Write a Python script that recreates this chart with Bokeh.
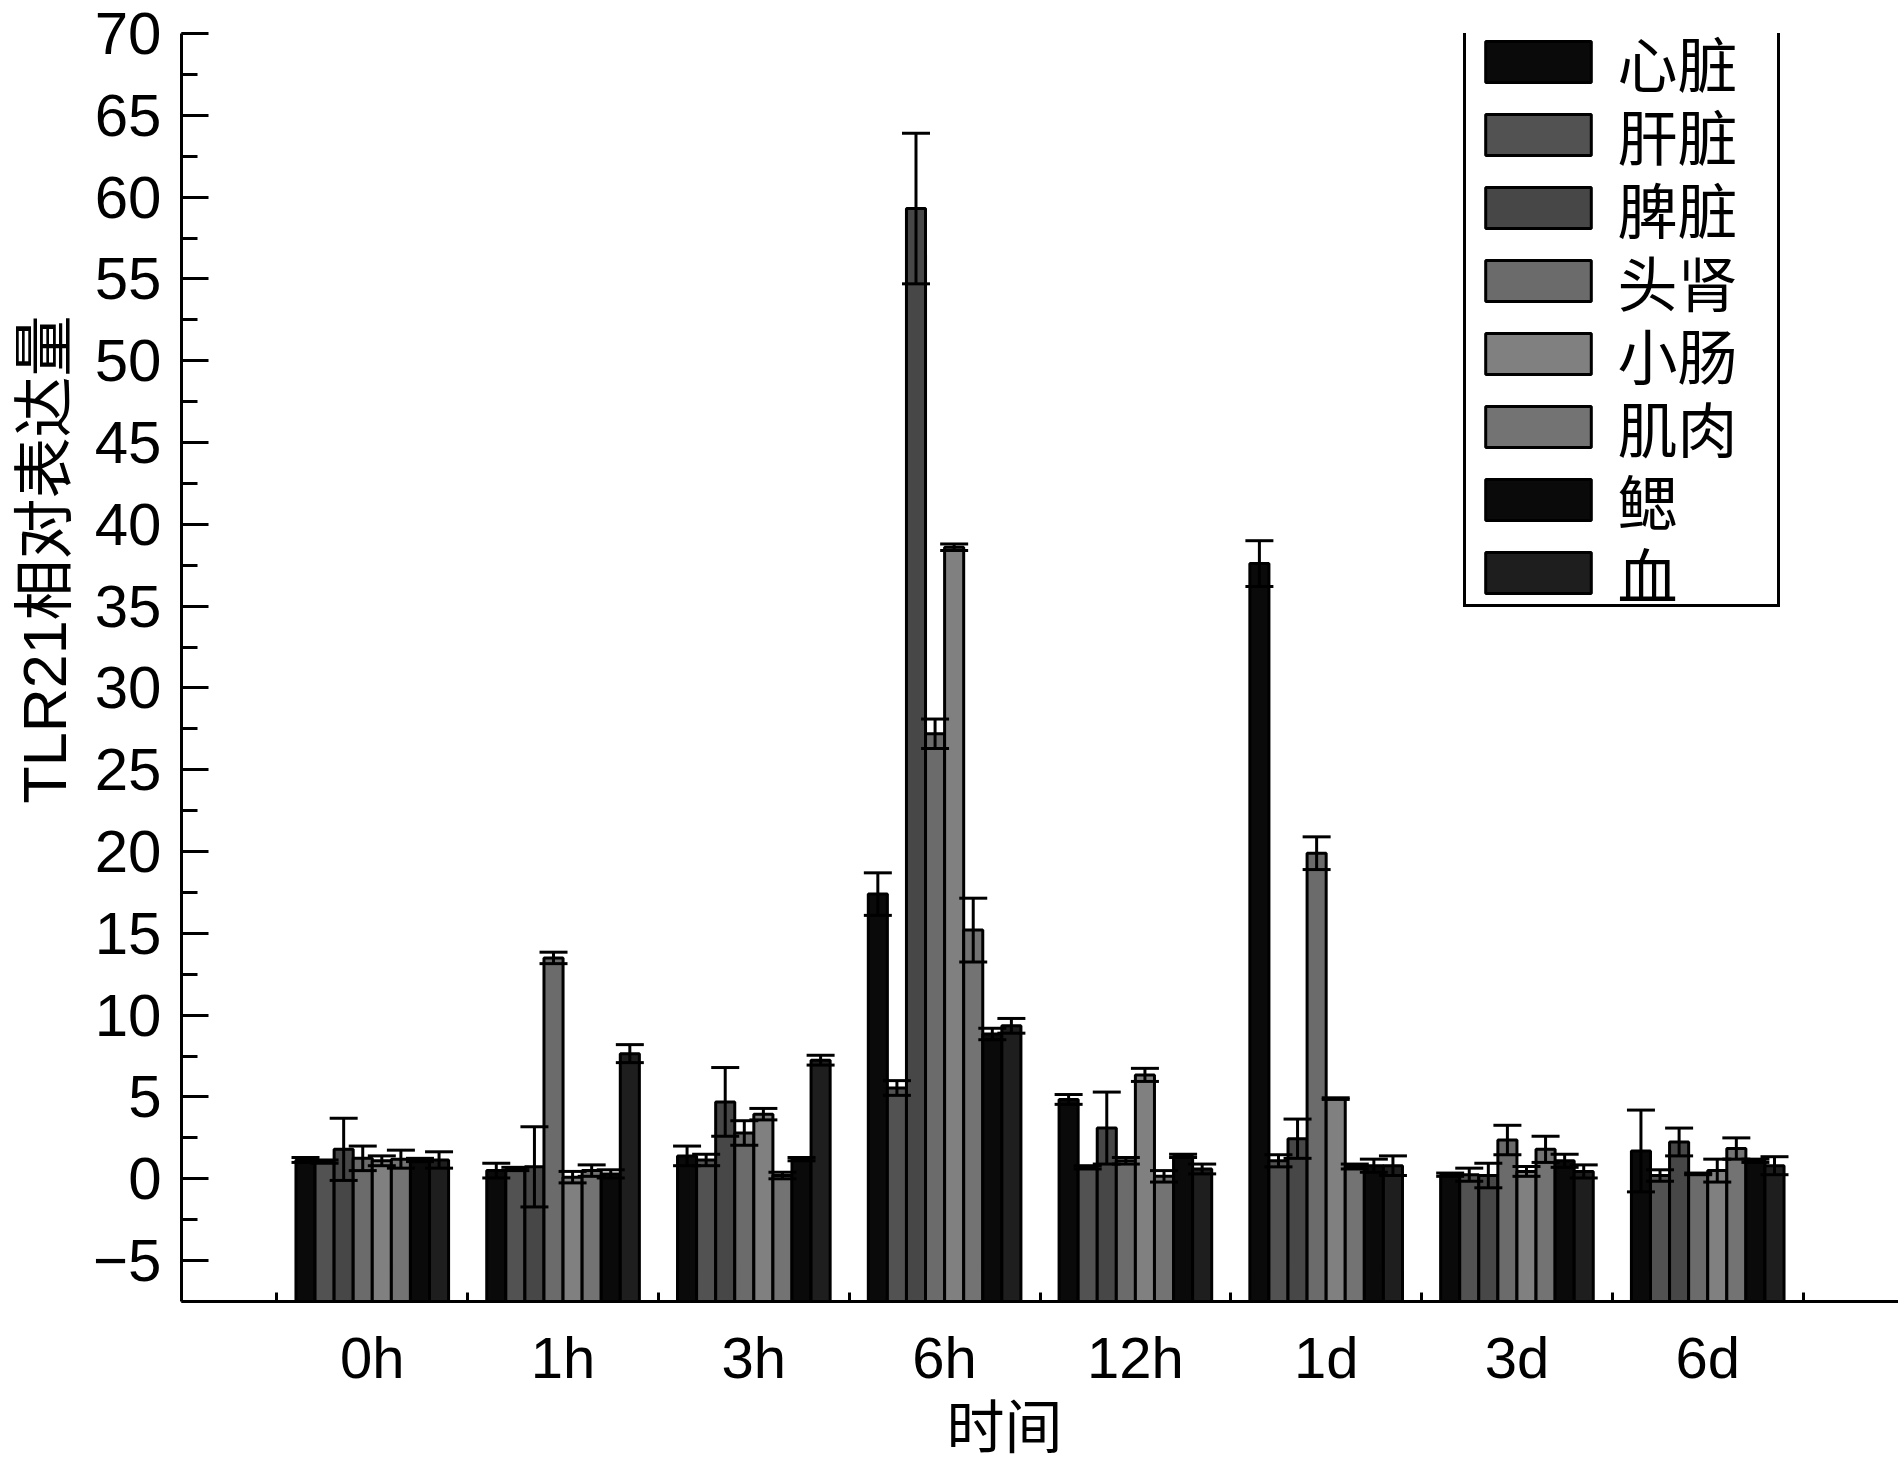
from bokeh.plotting import figure
from bokeh.models import (ColumnDataSource, Whisker, TeeHead, Legend, LegendItem,
                          Title, Label, FixedTicker, SingleIntervalTicker)
from bokeh.core.properties import value
from bokeh.transform import dodge
from bokeh.embed import file_html
from bokeh.resources import INLINE

groups = ["0h", "1h", "3h", "6h", "12h", "1d", "3d", "6d"]
tissues = ["心脏", "肝脏", "脾脏", "头肾", "小肠", "肌肉", "鳃", "血"]
colors = ["#0a0a0a", "#525252", "#474747", "#6b6b6b", "#808080", "#737373", "#0a0a0a", "#1e1e1e"]

heart = [1.15, 0.5, 1.4, 17.4, 4.85, 37.6, 0.25, 1.7]
heart_err = [0.15, 0.45, 0.6, 1.3, 0.3, 1.4, 0.1, 2.5]
liver = [1.05, 0.6, 1.15, 5.55, 0.7, 1.1, 0.25, 0.2]
liver_err = [0.1, 0.1, 0.35, 0.45, 0.1, 0.37, 0.4, 0.35]
spleen = [1.8, 0.73, 4.7, 59.3, 3.1, 2.45, 0.2, 2.25]
spleen_err = [1.9, 2.45, 2.1, 4.6, 2.2, 1.2, 0.75, 0.85]
headkidney = [1.25, 13.5, 2.8, 27.2, 1.1, 19.9, 2.37, 0.3]
headkidney_err = [0.75, 0.35, 0.75, 0.9, 0.2, 1.0, 0.9, 0.05]
intestine = [1.1, 0.1, 3.95, 38.6, 6.35, 4.9, 0.45, 0.5]
intestine_err = [0.3, 0.35, 0.35, 0.2, 0.4, 0.05, 0.3, 0.7]
muscle = [1.2, 0.5, 0.2, 15.2, 0.15, 0.75, 1.8, 1.85]
muscle_err = [0.55, 0.35, 0.2, 1.95, 0.35, 0.15, 0.8, 0.65]
gill = [1.15, 0.3, 1.2, 8.85, 1.4, 0.8, 1.1, 1.1]
gill_err = [0.1, 0.25, 0.1, 0.35, 0.1, 0.4, 0.4, 0.1]
blood = [1.15, 7.65, 7.25, 9.35, 0.6, 0.8, 0.45, 0.8]
blood_err = [0.5, 0.55, 0.3, 0.45, 0.3, 0.6, 0.4, 0.55]

series = [heart, liver, spleen, headkidney, intestine, muscle, gill, blood]
errors = [heart_err, liver_err, spleen_err, headkidney_err, intestine_err,
          muscle_err, gill_err, blood_err]

YMIN, YMAX = -7.5, 70
BAR_W = 0.1
MIXED_FONT = "Liberation Sans, Noto Sans CJK SC"

p = figure(width=1898, height=1459, x_range=(-1, 8), y_range=(YMIN, YMAX),
           output_backend="svg", toolbar_location=None,
           min_border_left=179, min_border_right=0, min_border_top=33,
           min_border_bottom=156)
p.xgrid.visible = False
p.ygrid.visible = False
p.outline_line_color = None
p.background_fill_color = "white"
p.border_fill_color = "white"

items = []
sources = []
for j, (vals, errs) in enumerate(zip(series, errors)):
    src = ColumnDataSource(dict(
        t=list(range(len(groups))),
        v=vals,
        upper=[a + b for a, b in zip(vals, errs)],
        lower=[a - b for a, b in zip(vals, errs)],
    ))
    sources.append(src)
    off = (j - (len(tissues) - 1) / 2) * BAR_W
    r = p.vbar(x=dodge("t", off), top="v", bottom=YMIN, width=BAR_W, source=src,
               fill_color=colors[j], line_color="black", line_width=3)
    items.append(LegendItem(label=value(""), renderers=[r]))

for j, src in enumerate(sources):
    off = (j - (len(tissues) - 1) / 2) * BAR_W
    w = Whisker(source=src, base=dodge("t", off), upper="upper", lower="lower",
                dimension="height", line_color="black", line_width=3, level="annotation",
                upper_head=TeeHead(size=28, line_width=3, line_color="black"),
                lower_head=TeeHead(size=28, line_width=3, line_color="black"))
    p.add_layout(w)

# y axis
ya = p.yaxis[0]
ya.ticker = SingleIntervalTicker(interval=5, num_minor_ticks=2)
ya.major_tick_in = 27
ya.major_tick_out = 0
ya.minor_tick_in = 16
ya.minor_tick_out = 0
ya.major_tick_line_width = 3
ya.minor_tick_line_width = 3
ya.axis_line_width = 3
ya.major_label_text_font = "Liberation Sans"
ya.major_label_text_font_size = "60px"
ya.major_label_text_color = "black"
ya.major_label_standoff = 20
ya.major_label_overrides = {-5: "\u22125"}

# x axis
xa = p.xaxis[0]
xa.ticker = FixedTicker(ticks=list(range(len(groups))),
                        minor_ticks=[i - 0.5 for i in range(len(groups) + 1)])
xa.major_tick_in = 0
xa.major_tick_out = 0
xa.minor_tick_in = 9
xa.minor_tick_out = 0
xa.minor_tick_line_width = 3
xa.axis_line_width = 3
xa.major_label_overrides = {i: g for i, g in enumerate(groups)}
xa.major_label_text_font = "Liberation Sans"
xa.major_label_text_font_size = "58px"
xa.major_label_text_color = "black"
xa.major_label_standoff = 23

# axis titles
p.add_layout(Title(text="TLR21相对表达量", align="left", offset=498, standoff=20,
                   vertical_align="top",
                   text_font=MIXED_FONT, text_font_size="61px",
                   text_font_style="normal", text_color="black"), "left")
p.add_layout(Title(text="时间", align="left", offset=765, standoff=0,
                   text_font=MIXED_FONT, text_font_size="58px",
                   text_font_style="normal", text_color="black"), "below")

# legend (swatches by Bokeh's Legend, names as labels beside them)
LEG_X, LEG_BOTTOM = 1282, 694          # frame-relative screen position
PAD, GW, GH, SP, STAND, LW = 6, 132, 51, 22, 16, 151
legend = Legend(items=items, location=(LEG_X, LEG_BOTTOM),
                border_line_color="black", border_line_width=3, border_line_alpha=1,
                background_fill_alpha=0,
                padding=PAD, spacing=SP, margin=0,
                glyph_width=GW, glyph_height=GH,
                label_text_font_size="1px", label_standoff=STAND,
                label_width=LW, label_height=1)
p.add_layout(legend)

n = len(tissues)
leg_top = LEG_BOTTOM + 2 * PAD + n * GH + (n - 1) * SP
for i, name in enumerate(tissues):
    p.add_layout(Label(x=LEG_X + PAD + GW + STAND,
                       y=leg_top - PAD - GH / 2 - i * (GH + SP) + 4,
                       x_units="screen", y_units="screen", text=name,
                       text_align="left", text_baseline="middle",
                       text_font="Noto Sans CJK SC", text_font_size="60px",
                       text_color="black"))

open("out.html", "w").write(file_html(p, INLINE))
